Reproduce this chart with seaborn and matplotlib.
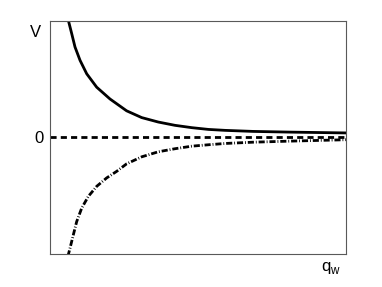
import matplotlib
matplotlib.use("Agg")
import matplotlib.pyplot as plt
import seaborn as sns
import pandas as pd

# Data (arbitrary units)
q_attr = [0.58, 0.634, 0.749, 0.86, 1.03, 1.255, 1.59, 2.04, 2.6, 3.11, 3.67, 4.23, 4.80, 5.36, 5.92, 6.87, 8.11, 10.0]
V_attr = [1.05, 0.997, 0.882, 0.768, 0.654, 0.539, 0.425, 0.324, 0.223, 0.165, 0.127, 0.099, 0.079, 0.064, 0.056, 0.047, 0.041, 0.034]

q_rep = [0.62, 0.691, 0.803, 0.917, 1.086, 1.309, 1.592, 1.929, 2.266, 2.6, 3.11, 3.67, 4.23, 4.80, 5.36, 5.92, 6.87, 8.11, 10.0]
V_rep = [-1.02, -0.951, -0.837, -0.723, -0.608, -0.508, -0.422, -0.35, -0.294, -0.23, -0.17, -0.127, -0.101, -0.079, -0.067, -0.056, -0.045, -0.036, -0.024]

q_zero = [0.0, 10.0]
V_zero = [0.0, 0.0]

ytick_vals = [0]
ytick_labels = ["0"]

sns.set_style("white")
plt.rcParams['font.family'] = ['Liberation Sans', 'DejaVu Sans']
plt.rcParams['mathtext.fontset'] = 'custom'
plt.rcParams['mathtext.rm'] = 'Liberation Sans'
plt.rcParams['text.color'] = 'black'
plt.rcParams['ytick.color'] = 'black'
plt.rcParams['axes.labelcolor'] = 'black'

fig = plt.figure(figsize=(3.82, 2.87), dpi=100)
ax = fig.add_axes([0.1296, 0.115, 0.9058 - 0.1296, 0.9268 - 0.115])

df_a = pd.DataFrame({"q": q_attr, "V": V_attr})
df_r = pd.DataFrame({"q": q_rep, "V": V_rep})
df_z = pd.DataFrame({"q": q_zero, "V": V_zero})

sns.lineplot(data=df_a, x="q", y="V", ax=ax, color="black", lw=2.0, sort=False)
l1 = sns.lineplot(data=df_z, x="q", y="V", ax=ax, color="black", lw=2.0, sort=False).lines[-1]
l1.set_dashes((2.2, 1.5))
l2 = sns.lineplot(data=df_r, x="q", y="V", ax=ax, color="black", lw=2.0, sort=False).lines[-1]
l2.set_dashes((2.2, 0.7, 0.3, 0.7))

ax.set_xlim(0, 10)
ax.set_ylim(-1.0, 0.99)
ax.set_xticks([])
ax.set_yticks(ytick_vals)
ax.set_yticklabels(ytick_labels, fontsize=12)
ax.tick_params(axis='y', length=0, pad=4)

ax.set_ylabel("V", fontsize=12, rotation=0)
ax.yaxis.set_label_coords(-0.047, 0.952)
ax.yaxis.label.set_verticalalignment('center')
ax.yaxis.label.set_horizontalalignment('center')
ax.set_xlabel(r"q$_{\mathregular{w}}$", fontsize=12)
ax.xaxis.set_label_coords(0.95, -0.06)
ax.xaxis.label.set_verticalalignment('center')

for s in ax.spines.values():
    s.set_color('0.35')
    s.set_linewidth(0.8)

fig.savefig("out.png", dpi=100)
